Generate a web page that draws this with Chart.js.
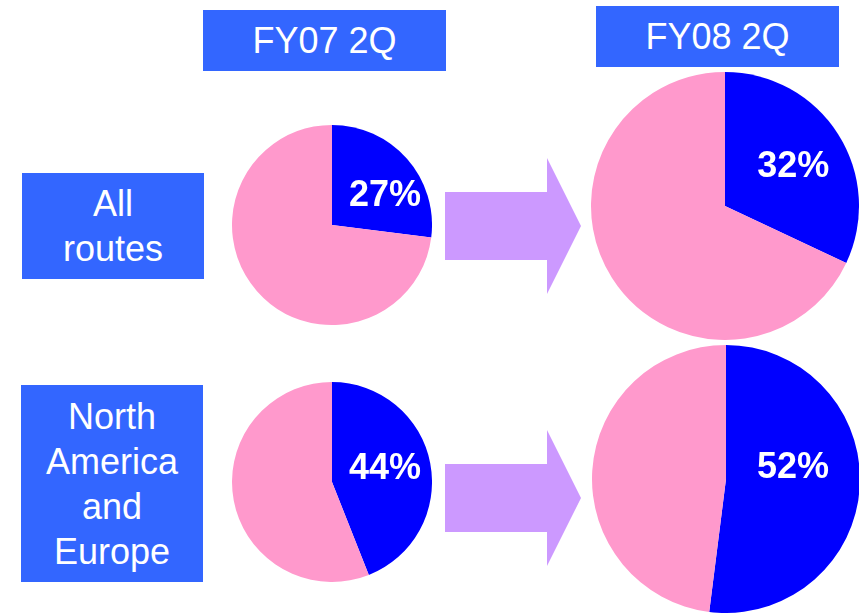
<!DOCTYPE html>
<html>
<head>
<meta charset="utf-8">
<script src="https://cdn.jsdelivr.net/npm/chart.js@4/dist/chart.umd.min.js"></script>
<style>
  html, body {
    margin: 0
    ;padding: 0;
  }
  body {
    width: 859px;
    height: 614px;
    overflow: hidden;
    position: relative;
    background: #fff;
    font-family: 'Liberation Sans', Arial, sans-serif;
  }
  .box {
    position: absolute;
    background: #3366ff;
    color: #fff;
    font-size: 36px;
    display: flex;
    align-items: center;
    justify-content: center;
    text-align: center;
    line-height: 45px;
  }
  .arrow {
    position: absolute;
    left: 445px;
    width: 136px;
    height: 136px;
    background: #cc99ff;
    clip-path: polygon(0 34px, 102px 34px, 102px 0, 136px 68px, 102px 136px, 102px 102px, 0 102px);
  }
  canvas {
    position: absolute;
  }
</style>
</head>
<body>

<div class="box" id="head0" style="left:203px;top:10px;width:243px;height:61px;"></div>
<div class="box" id="head1" style="left:596px;top:6px;width:243px;height:61px;"></div>
<div class="box" id="row0" style="left:22px;top:173px;width:182px;height:106px;"></div>
<div class="box" id="row1" style="left:21px;top:385px;width:182px;height:197px;"></div>

<div class="arrow" style="top:158px;"></div>
<div class="arrow" style="top:430px;"></div>

<canvas id="pie07a" width="200" height="200" style="left:232px;top:125px;"></canvas>
<canvas id="pie07b" width="200" height="200" style="left:232px;top:382px;"></canvas>
<canvas id="pie08a" width="268" height="268" style="left:591px;top:72px;"></canvas>
<canvas id="pie08b" width="268" height="268" style="left:592px;top:345px;"></canvas>

<script>
// data
const periods = ['FY07 2Q', 'FY08 2Q']
const routes = ['All routes', 'North America and Europe']
const routeLines = [['All', 'routes'], ['North', 'America', 'and', 'Europe']]
const sliceLabels = ['Share', 'Other']
const fy07Share = [27, 44]
const fy07Other = [73, 56]
const fy08Share = [32, 52]
const fy08Other = [68, 48]

document.getElementById('head0').textContent = periods[0]
document.getElementById('head1').textContent = periods[1]
document.getElementById('row0').innerHTML = routeLines[0].join('<br>')
document.getElementById('row1').innerHTML = routeLines[1].join('<br>')

// percent label drawn inside the blue slice
const pctLabel = {
  id: 'pctLabel',
  afterDraw(chart, args, opts) {
    const arc = chart.getDatasetMeta(0).data[0]
    if (!arc) return
    const r = arc.outerRadius
    const ctx = chart.ctx
    ctx.save()
    ctx.fillStyle = '#ffffff'
    ctx.font = 'bold 36px "Liberation Sans", Arial, sans-serif'
    ctx.textAlign = 'center'
    ctx.textBaseline = 'middle'
    ctx.fillText(chart.data.datasets[0].data[0] + '%', arc.x + opts.dx * r, arc.y + opts.dy * r)
    ctx.restore()
  }
}

function drawPie(id, share, other, dx, dy) {
  new Chart(document.getElementById(id), {
    type: 'pie',
    data: {
      labels: sliceLabels,
      datasets: [{
        data: [share, other],
        backgroundColor: ['#0000ff', '#ff99cc'],
        borderWidth: 0
      }]
    },
    options: {
      responsive: false,
      animation: false,
      devicePixelRatio: 1,
      layout: { padding: 0 },
      plugins: {
        legend: { display: false },
        tooltip: { enabled: false },
        pctLabel: { dx: dx, dy: dy }
      }
    },
    plugins: [pctLabel]
  })
}

drawPie('pie07a', fy07Share[0], fy07Other[0], 0.53, -0.29)
drawPie('pie07b', fy07Share[1], fy07Other[1], 0.53, -0.13)
drawPie('pie08a', fy08Share[0], fy08Other[0], 0.51, -0.29)
drawPie('pie08b', fy08Share[1], fy08Other[1], 0.50, -0.08)
</script>
</body>
</html>
